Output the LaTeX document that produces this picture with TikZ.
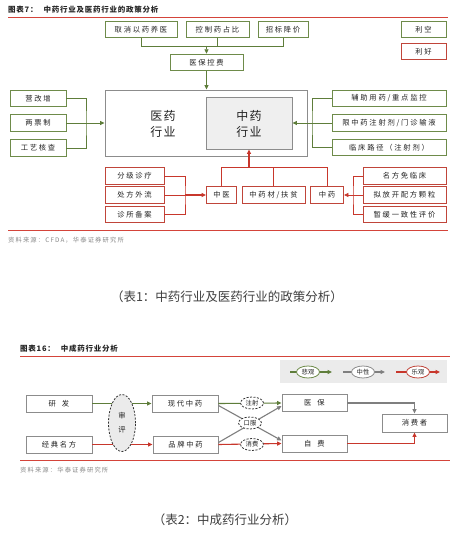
\documentclass[tikz,border=0pt]{standalone}
\usepackage{fontspec}
\setmainfont{Noto Sans CJK SC}
\newfontfamily\bxf[LetterSpace=24]{Noto Sans CJK SC}
\newfontfamily\bigf[LetterSpace=12]{Noto Sans CJK SC}
\newfontfamily\ttlf[LetterSpace=10]{Noto Sans CJK SC}
\newfontfamily\srcf[LetterSpace=18]{Noto Sans CJK SC}
\usetikzlibrary{arrows.meta,shapes.geometric}
\definecolor{gbd}{HTML}{6E8B4A}
\definecolor{gln}{HTML}{5E7D3A}
\definecolor{rbd}{HTML}{C0453A}
\definecolor{rln}{HTML}{C8372C}
\definecolor{kbd}{HTML}{8C8C8C}
\definecolor{kln}{HTML}{7F7F7F}
\definecolor{inbg}{HTML}{EFEFEF}
\definecolor{elbg}{HTML}{EBEBEB}
\definecolor{txt}{HTML}{222222}
\definecolor{rule}{HTML}{D4443A}
\definecolor{srcc}{HTML}{8A8A8A}
\begin{document}
\begin{tikzpicture}[x=1pt,y=-1pt,
 >={Triangle[length=4.5pt,width=4pt]},
 bx/.style={draw, line width=0.9pt, fill=white, inner sep=0pt, minimum height=16.5pt, font=\bxf\fontsize{7.3}{8}\selectfont, text=txt},
 gb/.style={bx, draw=gbd},
 rb/.style={bx, draw=rbd},
 kb/.style={bx, draw=kbd},
 gl/.style={draw=gln, line width=0.8pt},
 rl/.style={draw=rln, line width=0.8pt},
 gl2/.style={draw=gln, line width=1.1pt},
 rl2/.style={draw=rln, line width=1.1pt},
 kl/.style={draw=kln, line width=1.1pt},
 bigtxt/.style={align=center, inner sep=0pt, font=\bigf\fontsize{12}{16}\selectfont, text=txt},
 dell/.style={ellipse, draw=black!80, line width=0.8pt, dash pattern=on 2pt off 1.5pt, fill=white, inner sep=0pt, minimum width=23pt, minimum height=12pt, font=\fontsize{6.3}{7}\selectfont, text=txt},
 lell/.style={ellipse, line width=0.8pt, fill=white, inner sep=0pt, minimum width=23pt, minimum height=12pt, font=\fontsize{6.3}{7}\selectfont, text=txt},
 ttltxt/.style={anchor=west, inner sep=0pt, font=\ttlf\bfseries\fontsize{7.5}{9}\selectfont, text=black!85},
 srctxt/.style={anchor=west, inner sep=0pt, font=\srcf\fontsize{6.3}{8}\selectfont, text=srcc},
 captxt/.style={inner sep=0pt, font=\fontsize{12.5}{14}\selectfont, text=black!75}
]
\useasboundingbox (0,0) rectangle (459,537);
\fill[white] (0,0) rectangle (459,537);

% ---------- Diagram 1 ----------
\node[ttltxt] (title1) at (8,9.5) {图表7：\hspace{6pt}中药行业及医药行业的政策分析};
\coordinate (r1a) at (8,17);
\coordinate (r1b) at (448,17);
\draw[rule, line width=0.9pt] (r1a) -- (r1b);

\node[gb, minimum width=72pt] (qx) at (141,29.5) {取消以药养医};
\node[gb, minimum width=63pt] (kz) at (217.5,29.5) {控制药占比};
\node[gb, minimum width=50pt] (zb) at (283,29.5) {招标降价};
\node[gb, minimum width=73pt] (yk) at (206.5,62.5) {医保控费};
\node[gb, minimum width=45pt] (lk) at (423.5,29.5) {利空};
\node[rb, minimum width=45pt] (lh) at (423.5,51.5) {利好};

\node[draw=kbd, line width=0.9pt, minimum width=202pt, minimum height=66pt, inner sep=0pt] (yy) at (206,123) {};
\node[draw=kbd, fill=inbg, line width=0.9pt, minimum width=86pt, minimum height=52pt, inner sep=0pt] (zy) at (249,123) {};
\node[bigtxt] (yyt) at (163,124) {医药\\行业};
\node[bigtxt] (zyt) at (249,124) {中药\\行业};

\coordinate (tbk) at (207,46);
\draw[gl] (qx.south) |- (zb.south |- tbk) -- (zb.south);
\draw[gl] (kz.south) -- (kz.south |- tbk);
\draw[gl,->] (yk.north |- tbk) -- (yk.north);
\draw[gl,->] (yk.south) -- (yk.south |- yy.north);

\node[gb, minimum width=56pt] (yg) at (38,98.5) {营改增};
\node[gb, minimum width=56pt] (lp) at (38,123) {两票制};
\node[gb, minimum width=56pt] (gy) at (38,148) {工艺核查};
\coordinate (lbx) at (86,123);
\draw[gl] (yg.east) -| (lbx) |- (gy.east);
\draw[gl,->] (lp.east) -- (yy.west);

\node[gb, minimum width=114pt] (fz) at (389,98.5) {辅助用药/重点监控};
\node[gb, minimum width=114pt] (xz) at (389,123) {限中药注射剂/门诊输液};
\node[gb, minimum width=114pt] (lc) at (389,147.5) {临床路径（注射剂）};
\coordinate (rbx) at (312,123);
\draw[gl] (fz.west) -| (rbx) |- (lc.west);
\draw[gl,->] (xz.west) -- (zy.east);

\node[rb, minimum width=59pt] (fj) at (134.5,176) {分级诊疗};
\node[rb, minimum width=59pt] (cf) at (134.5,195) {处方外流};
\node[rb, minimum width=59pt] (zs) at (134.5,214.5) {诊所备案};
\node[rb, minimum width=30pt] (zyi) at (221.5,195) {中医};
\node[rb, minimum width=63pt] (zyc) at (273.5,195) {中药材/扶贫};
\node[rb, minimum width=33pt] (zyo) at (327,195) {中药};
\node[rb, minimum width=83pt] (mf) at (404.5,176) {名方免临床};
\node[rb, minimum width=83pt] (nf) at (404.5,195) {拟放开配方颗粒};
\node[rb, minimum width=83pt] (zh) at (404.5,214.5) {暂缓一致性评价};

\coordinate (lbb) at (185,195);
\draw[rl] (fj.east) -| (lbb) |- (zs.east);
\draw[rl] (cf.east) -- (lbb);
\draw[rl, line width=1.5pt, ->] (lbb) -- (zyi.west);
\coordinate (rbb) at (353,195);
\draw[rl] (mf.west) -| (rbb) |- (zh.west);
\draw[rl,->] (nf.west) -- (zyo.east);
\coordinate (tbb) at (249,167);
\draw[rl] (zyi.north) |- (zyo.north |- tbb) -- (zyo.north);
\draw[rl] (zyc.north) -- (zyc.north |- tbb);
\draw[rl, line width=1.1pt, ->] (tbb) -- (tbb |- zy.south);

\coordinate (r2a) at (8,230);
\coordinate (r2b) at (448,230);
\draw[rule, line width=0.9pt] (r2a) -- (r2b);
\node[srctxt] (src1) at (8,240.5) {资料来源：CFDA，华泰证券研究所};

\node[captxt] (cap1) at (227,297) {（表1：中药行业及医药行业的政策分析）};

% ---------- Diagram 2 ----------
\node[ttltxt] (title2) at (20,349) {图表16：\hspace{6pt}中成药行业分析};
\coordinate (r3a) at (20,356);
\coordinate (r3b) at (450,356);
\draw[rule, line width=0.9pt] (r3a) -- (r3b);

\node[fill=elbg, minimum width=167pt, minimum height=23pt, inner sep=0pt] (lgd) at (363.5,371.5) {};
\coordinate (g1) at (290,372); \coordinate (g2) at (332,372);
\coordinate (k1) at (343,372); \coordinate (k2) at (385,372);
\coordinate (q1) at (396,372); \coordinate (q2) at (440,372);
\draw[gl2,->] (g1) -- (g2);
\draw[kl,->] (k1) -- (k2);
\draw[rl2,->] (q1) -- (q2);
\node[lell, draw=gbd] (bg) at (308,372) {悲观};
\node[lell, draw=kbd] (zx) at (363,372) {中性};
\node[lell, draw=rbd] (lg) at (418,372) {乐观};

\node[kb, minimum width=66pt, minimum height=17pt] (yf) at (59,403.5) {研\hspace{6pt}发};
\node[kb, minimum width=66pt, minimum height=17pt] (jd) at (59,444.5) {经典名方};
\node[kb, minimum width=66pt, minimum height=17pt] (xd) at (185,403.5) {现代中药};
\node[kb, minimum width=65pt, minimum height=17pt] (pp) at (185.5,444.5) {品牌中药};
\node[kb, minimum width=65pt, minimum height=17pt] (yb) at (314.5,403) {医\hspace{6pt}保};
\node[kb, minimum width=65pt, minimum height=17pt] (zf) at (314.5,443.5) {自\hspace{6pt}费};
\node[kb, minimum width=65pt, minimum height=18pt] (xf) at (414.5,423) {消费者};

\draw[gl2,->] (yf.east) -- (xd.west);
\draw[rl2,->] (jd.east) -- (pp.west);
\draw[kl,->] ([yshift=-2pt]xd.east) -- ([yshift=3pt]zf.west);
\draw[kl,->] ([yshift=2pt]pp.east) -- ([yshift=-3pt]yb.west);
\draw[gl2,->] (xd.east) -- (yb.west);
\draw[rl2,->] (pp.east) -- (zf.west);
\draw[kl,->] (yb.east) -| (xf.north);
\draw[rl2,->] (zf.east) -| (xf.south);

\node[dell, fill=elbg, minimum width=27pt, minimum height=57pt, align=center, font=\fontsize{7.3}{14}\selectfont] (sp) at (122,423) {审\\评};
\node[dell] (zs2) at (252,403) {注射};
\node[dell] (kf) at (250,423) {口服};
\node[dell] (xfe) at (252,444.5) {消费};

\coordinate (r4a) at (20,460);
\coordinate (r4b) at (450,460);
\draw[rule, line width=0.9pt] (r4a) -- (r4b);
\node[srctxt] (src2) at (20,470.5) {资料来源：华泰证券研究所};

\node[captxt] (cap2) at (225,520) {（表2：中成药行业分析）};
\end{tikzpicture}
\end{document}
